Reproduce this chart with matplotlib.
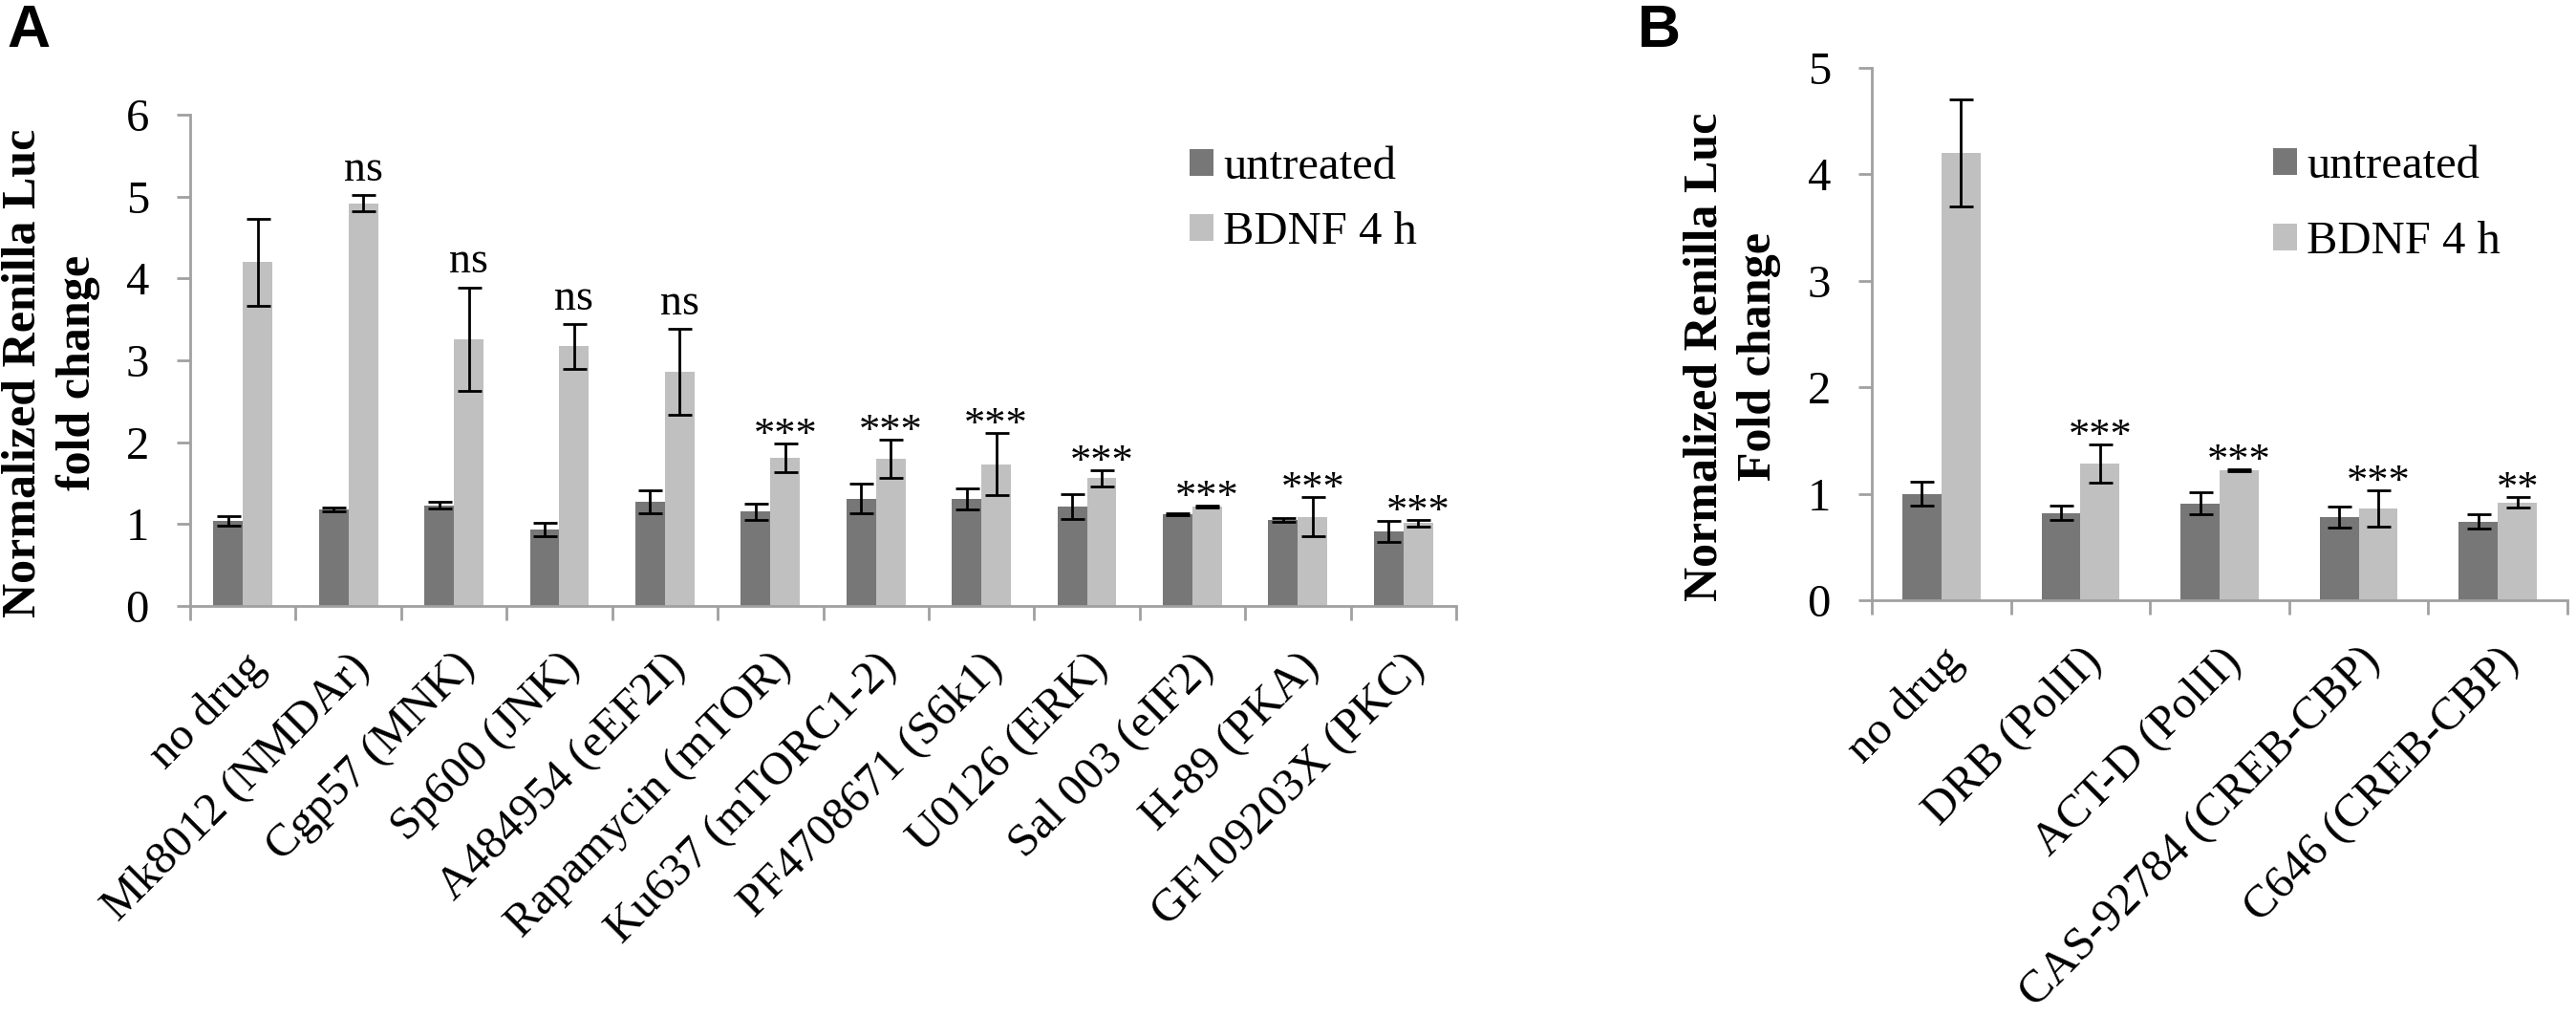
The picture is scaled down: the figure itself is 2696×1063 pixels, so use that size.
import matplotlib
matplotlib.use("Agg")
import matplotlib.pyplot as plt
import numpy as np
from matplotlib.patches import Patch

# ---------------- data ----------------
cats_a = ["no drug", "Mk8012 (NMDAr)", "Cgp57 (MNK)", "Sp600 (JNK)", "A484954 (eEF2I)",
          "Rapamycin (mTOR)", "Ku637 (mTORC1-2)", "PF4708671 (S6k1)", "U0126 (ERK)",
          "Sal 003 (eIF2)", "H-89 (PKA)", "GF109203X (PKC)"]
untr_a = [1.04, 1.18, 1.23, 0.93, 1.27, 1.15, 1.31, 1.31, 1.21, 1.12, 1.05, 0.91]
untr_a_err = [0.06, 0.02, 0.04, 0.08, 0.14, 0.10, 0.18, 0.13, 0.15, 0.01, 0.02, 0.13]
bdnf_a = [4.20, 4.92, 3.26, 3.17, 2.86, 1.81, 1.80, 1.73, 1.56, 1.21, 1.09, 1.01]
bdnf_a_err = [0.53, 0.10, 0.63, 0.27, 0.52, 0.17, 0.23, 0.38, 0.10, 0.01, 0.24, 0.04]
sig_a = ["", "ns", "ns", "ns", "ns", "***", "***", "***", "***", "***", "***", "***"]
yticks_a = [0, 1, 2, 3, 4, 5, 6]

cats_b = ["no drug", "DRB (PolII)", "ACT-D (PolII)", "CAS-92784 (CREB-CBP)", "C646 (CREB-CBP)"]
untr_b = [1.00, 0.82, 0.91, 0.78, 0.74]
untr_b_err = [0.11, 0.07, 0.10, 0.10, 0.07]
bdnf_b = [4.20, 1.28, 1.22, 0.86, 0.92]
bdnf_b_err = [0.50, 0.18, 0.01, 0.17, 0.05]
sig_b = ["", "***", "***", "***", "**"]
yticks_b = [0, 1, 2, 3, 4, 5]

series_names = ["untreated", "BDNF 4 h"]
ylabel_a = "Normalized Renilla Luc\nfold change"
ylabel_b = "Normalized Renilla Luc\nFold change"

# ---------------- style ----------------
DARK = "#777777"
LIGHT = "#c0c0c0"
SPINE = "#a0a0a0"
SERIF = ["Liberation Serif", "DejaVu Serif"]
SANS = ["Liberation Sans", "DejaVu Sans"]

W, H = 2696, 1063
DPI = 100
fig = plt.figure(figsize=(W / DPI, H / DPI), dpi=DPI)


def px_x(x):
    return x / W


def px_y(y):
    return 1 - y / H


def panel(rect, cats, untr, untr_err, bdnf, bdnf_err, sig, yticks, legend_xy, legend_spacing):
    ax = fig.add_axes(rect)
    n = len(cats)
    x = np.arange(n)
    bw = 0.28
    ekw = dict(elinewidth=2.0, capthick=2.0, ecolor="black")
    ax.bar(x - bw / 2, untr, bw, color=DARK, yerr=untr_err, capsize=9, error_kw=ekw, zorder=2)
    ax.bar(x + bw / 2, bdnf, bw, color=LIGHT, yerr=bdnf_err, capsize=9, error_kw=ekw, zorder=2)
    for xi, v, e, s in zip(x, bdnf, bdnf_err, sig):
        if not s:
            continue
        if s == "ns":
            off = 11
            fs = 33
        else:
            off = -2
            fs = 32
        ax.annotate(s, (xi + bw / 2, v + e), xytext=(0, off), textcoords="offset points",
                    ha="center", va="baseline", fontsize=fs, family=SERIF)
    ax.set_xlim(-0.5, n - 0.5)
    ax.set_ylim(yticks[0], yticks[-1])
    ax.set_yticks(yticks)
    ax.set_yticklabels([str(t) for t in yticks], family=SERIF, fontsize=35)
    ax.set_xticks(x)
    ax.set_xticklabels(cats, rotation=45, ha="right", va="top", rotation_mode="anchor",
                       family=SERIF, fontsize=35)
    ax.set_xticks(np.arange(n + 1) - 0.5, minor=True)
    ax.tick_params(axis="x", which="major", length=0, pad=30)
    ax.tick_params(axis="x", which="minor", length=11, width=2.0, color=SPINE, direction="out")
    ax.tick_params(axis="y", which="major", length=10, width=2.0, color=SPINE, pad=21)
    for s in ("top", "right"):
        ax.spines[s].set_visible(False)
    for s in ("left", "bottom"):
        ax.spines[s].set_color(SPINE)
        ax.spines[s].set_linewidth(2.0)
    handles = [Patch(facecolor=DARK, edgecolor="none"), Patch(facecolor=LIGHT, edgecolor="none")]
    ax.legend(handles, series_names, loc="upper left",
              bbox_to_anchor=(px_x(legend_xy[0]), px_y(legend_xy[1])),
              bbox_transform=fig.transFigure, frameon=False,
              prop=dict(family=SERIF, size=35), handlelength=0.52, handleheight=0.52,
              handletextpad=0.2, labelspacing=legend_spacing, borderpad=0, borderaxespad=0)
    return ax


axA = panel([px_x(199), px_y(634), px_x(1524) - px_x(199), px_y(120) - px_y(634)],
            cats_a, untr_a, untr_a_err, bdnf_a, bdnf_a_err, sig_a, yticks_a,
            (1245, 153), 0.5)
axB = panel([px_x(1959), px_y(628), px_x(2687) - px_x(1959), px_y(71) - px_y(628)],
            cats_b, untr_b, untr_b_err, bdnf_b, bdnf_b_err, sig_b, yticks_b,
            (2379, 152), 0.72)

fig.text(px_x(53), px_y(390), ylabel_a, rotation=90, ha="center", va="center",
         multialignment="center", family=SERIF, fontweight="bold", fontsize=36, linespacing=1.3)
fig.text(px_x(1813), px_y(373), ylabel_b, rotation=90, ha="center", va="center",
         multialignment="center", family=SERIF, fontweight="bold", fontsize=36, linespacing=1.3)

fig.text(px_x(7), px_y(3), "A", ha="left", va="top", family=SANS, fontweight="bold", fontsize=45)
fig.text(px_x(1714), px_y(3), "B", ha="left", va="top", family=SANS, fontweight="bold", fontsize=45)

fig.savefig("out.png", dpi=DPI)
